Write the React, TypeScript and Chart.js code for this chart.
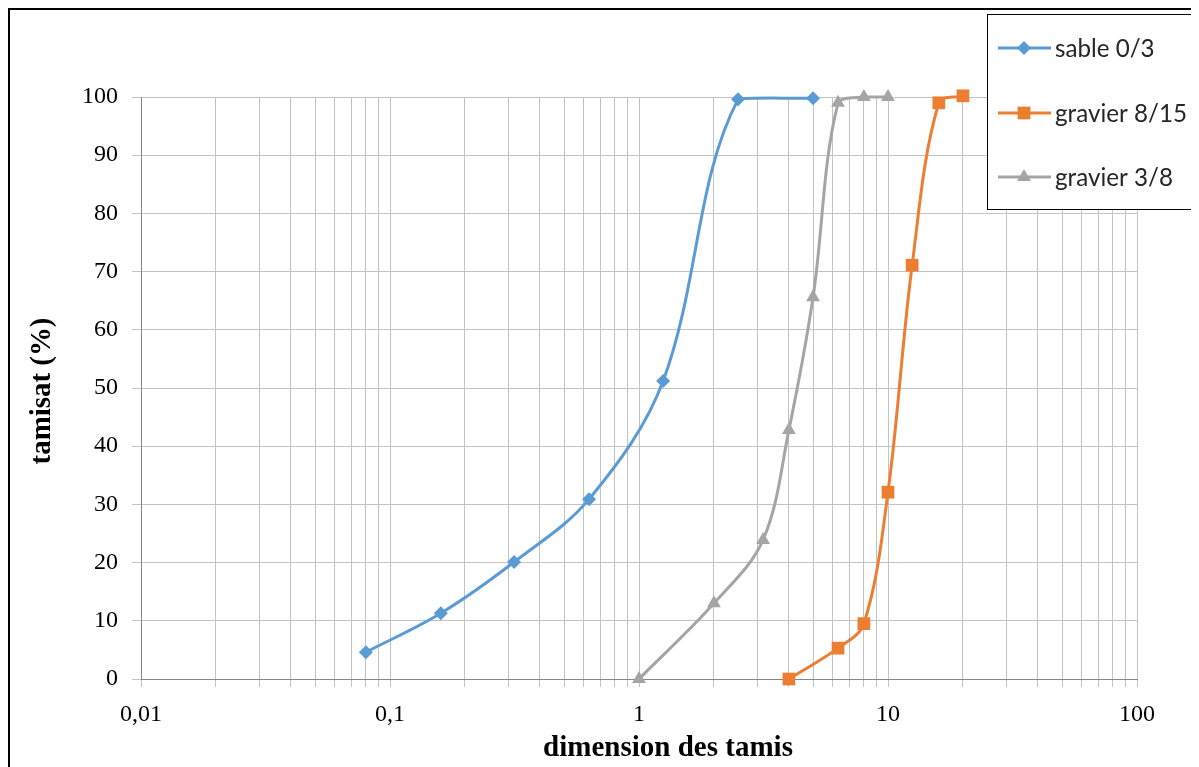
import React, { useEffect, useRef } from "react";
import { Chart, registerables } from "chart.js";

Chart.register(...registerables);

// Sieve sizes (mm) and passing percentages
const sableSizes = [0.08, 0.16, 0.315, 0.63, 1.25, 2.5, 5];
const sablePassing = [4.6, 11.3, 20.1, 30.9, 51.2, 99.6, 99.8];

const gravier815Sizes = [4, 6.3, 8, 10, 12.5, 16, 20];
const gravier815Passing = [0, 5.3, 9.5, 32.1, 71.1, 99, 100.2];

const gravier38Sizes = [1, 2, 3.15, 4, 5, 6.3, 8, 10];
const gravier38Passing = [0, 13, 23.9, 42.8, 65.6, 99, 100, 100];

const seriesNames = ["sable 0/3", "gravier 8/15", "gravier 3/8"];
const seriesColors = ["#5B9BD5", "#ED7D31", "#A5A5A5"];
const seriesStyles = ["rectRot", "rect", "triangle"];
const seriesRadius = [7, 9, 8];

const xTitle = "dimension des tamis";
const yTitle = "tamisat (%)";

const SERIF = '"Liberation Serif", "Times New Roman", serif';
const SANS = 'Lato, "Open Sans", sans-serif';

const toPoints = (xs: number[], ys: number[]) => xs.map((x, i) => ({ x, y: ys[i] }));

function fitFont(ctx: CanvasRenderingContext2D, text: string, width: number, family: string, weight: string) {
  ctx.font = `${weight} 20px ${family}`;
  const w = ctx.measureText(text).width;
  return (20 * width) / w;
}

function drawMarker(ctx: CanvasRenderingContext2D, style: string, r: number, x: number, y: number) {
  ctx.beginPath();
  if (style === "rectRot") {
    ctx.moveTo(x - r, y);
    ctx.lineTo(x, y - r);
    ctx.lineTo(x + r, y);
    ctx.lineTo(x, y + r);
  } else if (style === "rect") {
    const s = Math.SQRT1_2 * r;
    ctx.rect(x - s, y - s, 2 * s, 2 * s);
  } else {
    ctx.moveTo(x, y - r);
    ctx.lineTo(x + r * Math.cos(Math.PI / 6), y + r / 2);
    ctx.lineTo(x - r * Math.cos(Math.PI / 6), y + r / 2);
  }
  ctx.closePath();
  ctx.fill();
}

const decorPlugin = {
  id: "decor",
  afterDraw(chart: any) {
    const ctx = chart.ctx as CanvasRenderingContext2D;
    ctx.save();

    // Axis titles
    ctx.fillStyle = "#000000";
    ctx.textAlign = "center";
    ctx.textBaseline = "middle";
    const xs = fitFont(ctx, xTitle, 250, SERIF, "bold");
    ctx.font = `bold ${xs}px ${SERIF}`;
    ctx.fillText(xTitle, 658, 739);
    const ys = fitFont(ctx, yTitle, 147, SERIF, "bold");
    ctx.save();
    ctx.translate(33, 381);
    ctx.rotate(-Math.PI / 2);
    ctx.font = `bold ${ys}px ${SERIF}`;
    ctx.fillText(yTitle, 0, 0);
    ctx.restore();

    // Legend box
    const left = 977.5;
    const top = 4.5;
    const bottom = 199.5;
    ctx.fillStyle = "#ffffff";
    ctx.fillRect(left, top, chart.width - left + 5, bottom - top);
    ctx.strokeStyle = "#000000";
    ctx.lineWidth = 1;
    ctx.strokeRect(left, top, chart.width - left + 5, bottom - top);
    const rowY = [38, 103, 167];
    const ls = fitFont(ctx, seriesNames[1], 132, SANS, "normal");
    ctx.font = `${ls}px ${SANS}`;
    ctx.textBaseline = "middle";
    ctx.textAlign = "left";
    seriesNames.forEach((name, i) => {
      const y = rowY[i];
      ctx.strokeStyle = seriesColors[i];
      ctx.lineWidth = 3;
      ctx.beginPath();
      ctx.moveTo(988, y);
      ctx.lineTo(1041, y);
      ctx.stroke();
      ctx.fillStyle = seriesColors[i];
      drawMarker(ctx, seriesStyles[i], seriesRadius[i], 1014, y);
      ctx.fillStyle = "#262626";
      ctx.fillText(name, 1045, y + 1);
    });
    ctx.restore();
  },
};

export default function App() {
  const canvasRef = useRef<HTMLCanvasElement | null>(null);

  useEffect(() => {
    document.body.style.overflow = "hidden";
    const canvas = canvasRef.current;
    if (!canvas) return;
    const datasets = [
      toPoints(sableSizes, sablePassing),
      toPoints(gravier815Sizes, gravier815Passing),
      toPoints(gravier38Sizes, gravier38Passing),
    ].map((data, i) => ({
      label: seriesNames[i],
      data,
      showLine: true,
      borderColor: seriesColors[i],
      backgroundColor: seriesColors[i],
      borderWidth: 3,
      tension: 0.35,
      pointStyle: seriesStyles[i],
      pointRadius: seriesRadius[i],
      pointBorderWidth: 0,
      pointHoverRadius: seriesRadius[i],
      clip: false as any,
    }));

    const chart = new Chart(canvas, {
      type: "scatter",
      data: { datasets },
      options: {
        animation: false,
        responsive: false,
        maintainAspectRatio: false,
        layout: { padding: { top: 87, right: 62, left: 0, bottom: 0 } },
        plugins: {
          legend: { display: false },
          tooltip: { enabled: false },
        },
        scales: {
          x: {
            type: "logarithmic",
            min: 0.01,
            max: 100,
            afterBuildTicks(scale: any) {
              const ticks: any[] = [];
              for (let k = -2; k <= 1; k++) {
                for (let m = 1; m <= 9; m++) {
                  ticks.push({ value: Number((m * Math.pow(10, k)).toPrecision(10)) });
                }
              }
              ticks.push({ value: 100 });
              scale.ticks = ticks;
            },
            afterFit(scale: any) {
              scale.height = 88;
            },
            ticks: {
              autoSkip: false,
              maxRotation: 0,
              padding: 13,
              color: "#000000",
              font: { family: SERIF, size: 24 },
              callback(value: any) {
                const v = Number(value);
                const lg = Math.log10(v);
                if (Math.abs(lg - Math.round(lg)) < 1e-9) {
                  return String(v).replace(".", ",");
                }
                return "";
              },
            },
            grid: {
              color: "#C3C3C3",
              lineWidth: 1,
              tickLength: 8,
              drawTicks: true,
            },
            border: { color: "#868686", width: 1 },
          },
          y: {
            type: "linear",
            min: 0,
            max: 100,
            ticks: {
              stepSize: 10,
              padding: 14,
              color: "#000000",
              font: { family: SERIF, size: 24 },
            },
            afterFit(scale: any) {
              scale.width = 131;
            },
            grid: {
              color: "#C3C3C3",
              lineWidth: 1,
              tickLength: 9,
            },
            border: { color: "#868686", width: 1 },
          },
        },
      },
      plugins: [decorPlugin],
    } as any);

    return () => {
      chart.destroy();
    };
  }, []);

  return (
    <div
      style={{
        width: 1191,
        height: 759,
        borderLeft: "2px solid #000",
        borderTop: "2px solid #000",
        boxSizing: "border-box",
        overflow: "hidden",
        background: "#fff",
      }}
    >
      <canvas ref={canvasRef} width={1189} height={757} style={{ display: "block" }} />
    </div>
  );
}
